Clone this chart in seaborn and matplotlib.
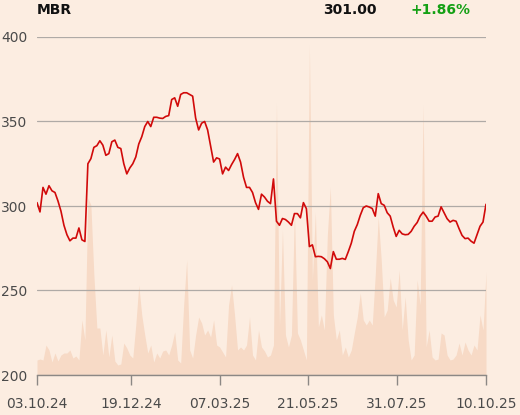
import numpy as np
import matplotlib
matplotlib.use("Agg")
import matplotlib.pyplot as plt
import pandas as pd
import seaborn as sns

# closing price, one value per sample (~trading days)
price = [302, 296.5, 311, 307, 312, 309, 308, 303, 297, 288.6,
         283, 279.4, 281, 281, 287, 280, 279, 325, 328, 334.7,
         335.7, 338.6, 336, 330, 331, 338, 339, 334.7, 334, 325,
         319, 322.5, 325, 329, 336.7, 341, 347, 350, 347, 352.5,
         352.5, 352, 351.8, 353, 353.5, 363, 364, 359, 366, 367,
         367, 366, 365, 352, 345, 349, 350, 345, 335.5, 326,
         328.5, 327.8, 319, 323, 321, 324.5, 327.5, 331, 326, 317,
         311, 311, 308, 302, 298, 307, 305.3, 302.8, 301.4, 316,
         291, 288.6, 292.6, 292, 290.5, 288.6, 295.5, 295.5, 293, 302,
         298.4, 276, 277, 270, 270.2, 270, 268.8, 267, 263, 273,
         268.5, 268.5, 269, 268.4, 273, 278, 285, 289, 294.5, 299,
         300, 299.4, 298.5, 294, 307.3, 301.4, 300.4, 296, 294, 287.5,
         282, 285.6, 283.5, 283, 283.2, 285, 288, 290.2, 294, 296.4,
         294, 291, 291, 293.5, 294, 299.5, 296, 292.5, 290.5, 291.5,
         291, 286.6, 282.6, 280.7, 281, 279.2, 278, 283, 288, 290.5,
         301]

# traded volume (arbitrary units), same samples
volume = [15, 16, 15, 30, 25, 13, 22, 14, 20, 22,
          22, 25, 17, 19, 15, 55, 35, 177, 170, 100,
          47, 47, 20, 45, 18, 40, 14, 10, 11, 32,
          27, 20, 17, 50, 90, 60, 40, 22, 30, 13,
          22, 17, 24, 25, 20, 30, 43, 15, 12, 70,
          115, 25, 17, 40, 58, 52, 40, 45, 38, 55,
          30, 28, 23, 18, 70, 90, 60, 25, 28, 25,
          30, 58, 20, 15, 45, 28, 24, 18, 20, 30,
          272, 48, 145, 40, 28, 40, 165, 42, 35, 25,
          15, 330, 95, 163, 48, 60, 45, 140, 188, 60,
          35, 45, 20, 28, 18, 25, 42, 58, 82, 55,
          50, 55, 50, 100, 158, 115, 58, 65, 97, 75,
          68, 105, 45, 78, 35, 15, 20, 95, 70, 270,
          28, 45, 18, 15, 16, 42, 40, 20, 15, 16,
          20, 32, 20, 33, 25, 20, 30, 25, 60, 45,
          103]

tick_pos = [0, 31.4, 61.1, 90.5, 120.3, 150]
tick_labels = ["03.10.24", "19.12.24", "07.03.25", "21.05.25", "31.07.25", "10.10.25"]
y_ticks = [200, 250, 300, 350, 400]

ticker = "MBR"
last_price = "301.00"
change = "+1.86%"

df = pd.DataFrame({"day": np.arange(len(price)), "price": price, "volume": volume})

bg = "#FCEDE1"
sns.set_style("white")
plt.rcParams["font.family"] = ["DejaVu Sans"]

fig = plt.figure(figsize=(5.2, 4.15), dpi=100, facecolor=bg)
ax = fig.add_axes([37 / 520, 40 / 415, 449 / 520, 338 / 415])
axv = ax.twinx()

# volume behind the price axis
ax.set_zorder(2)
axv.set_zorder(1)
ax.patch.set_visible(False)
axv.set_facecolor(bg)
axv.fill_between(df["day"], df["volume"], color="#F7DAC6", lw=0)
axv.set_ylim(0, 338)
axv.set_yticks([])
for s in axv.spines.values():
    s.set_visible(False)

sns.lineplot(data=df, x="day", y="price", ax=ax, color="#D10A0A", lw=1.2)
ax.set_xlim(0, 150)
ax.set_ylim(200, 400)
ax.set_yticks(y_ticks)
ax.set_xticks(tick_pos)
ax.set_xticklabels(tick_labels)
ax.set_xlabel("")
ax.set_ylabel("")
ax.grid(axis="y", color="#AFAAA6", lw=0.9)
ax.grid(axis="x", visible=False)
for side in ["top", "right", "left"]:
    ax.spines[side].set_visible(False)
ax.spines["bottom"].set_color("#8C8885")
ax.spines["bottom"].set_linewidth(1)
ax.tick_params(axis="y", length=0, pad=7, labelsize=10, labelcolor="#4A4A4A")
ax.tick_params(axis="x", length=7, width=1, color="#8C8885", pad=9,
               labelsize=10, labelcolor="#4A4A4A", bottom=True)

fig.text(37 / 520, 1 - 10 / 415, ticker, fontsize=10, fontweight="bold",
         color="#111111", va="center", ha="left")
fig.text(323 / 520, 1 - 10 / 415, last_price, fontsize=10, fontweight="bold",
         color="#111111", va="center", ha="left")
fig.text(411 / 520, 1 - 10 / 415, change, fontsize=10, fontweight="bold",
         color="#14A014", va="center", ha="left")

fig.savefig("out.png", dpi=100, facecolor=bg)
